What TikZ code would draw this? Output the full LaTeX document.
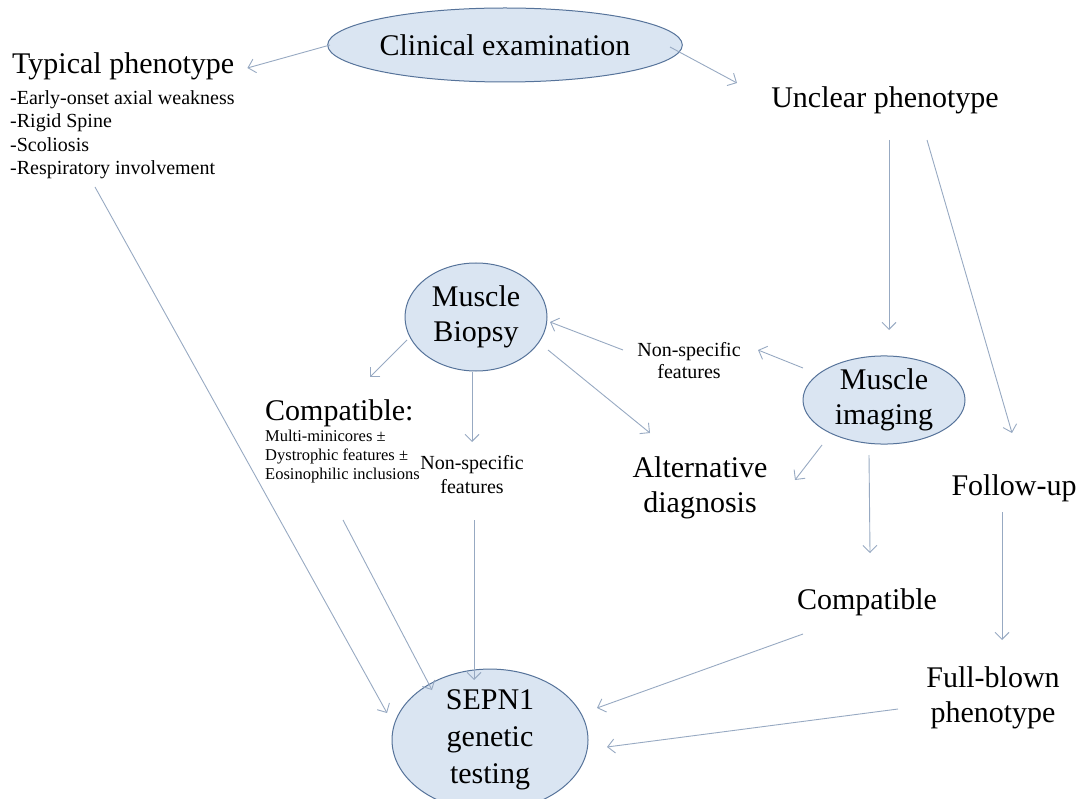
\documentclass[tikz,border=0pt]{standalone}
\usepackage{fontspec}
\setmainfont{Liberation Serif}
\usetikzlibrary{shapes.geometric,arrows.meta,calc}
\definecolor{ellfill}{HTML}{DAE5F2}
\definecolor{elldraw}{HTML}{56739A}
\definecolor{arr}{HTML}{97A9C2}
\tikzset{
  bubble/.style={ellipse, draw=elldraw, fill=ellfill, line width=1pt, inner sep=0pt, align=center, font=\fontsize{30}{35}\selectfont},
  big/.style={inner sep=0pt, align=center, font=\fontsize{30}{35}\selectfont},
  mid/.style={inner sep=0pt, align=center, font=\fontsize{20}{23}\selectfont},
  conn/.style={draw=arr, line width=0.9pt, -{Straight Barb[length=7pt,width=14pt]}},
}
\begin{document}
\begin{tikzpicture}[x=1pt,y=-1pt]
\useasboundingbox (0,0) rectangle (1083,799);
% nodes
\node[bubble, minimum width=315, minimum height=74] (clin) at (505,45) {Clinical examination};
\node[big, anchor=base west] (typ) at (12,74) {Typical phenotype};
\node[inner sep=0pt, align=left, anchor=north west, font=\fontsize{20}{23.5}\selectfont] (typl) at (10,90)
  {-Early-onset axial weakness\\-Rigid Spine\\-Scoliosis\\-Respiratory involvement};
\node[big] (unc) at (885,100) {Unclear phenotype};
\node[bubble, minimum width=142, minimum height=108] (bio) at (476,317) {Muscle\\Biopsy};
\node[bubble, minimum width=162, minimum height=86] (img) at (884,400) {Muscle\\imaging};
\node[mid, font=\fontsize{20}{22}\selectfont] (nsr) at (689,361) {Non-specific\\features};
\node[big, anchor=west] (comp) at (265,413) {Compatible:};
\node[inner sep=0pt, align=left, anchor=north west, font=\fontsize{16.5}{19}\selectfont] (compl) at (265,430)
  {Multi-minicores ±\\Dystrophic features ±\\Eosinophilic inclusions};
\node[mid, font=\fontsize{20}{24}\selectfont] (nsm) at (472,475) {Non-specific\\features};
\node[big] (alt) at (700,488) {Alternative\\diagnosis};
\node[big] (follow) at (1014,488) {Follow-up};
\node[big] (compr) at (867,602) {Compatible};
\node[big] (fb) at (993,698) {Full-blown\\phenotype};
\node[bubble, minimum width=196, minimum height=124, font=\fontsize{30}{37}\selectfont] (sepn) at (490,740) {SEPN1\\genetic\\testing};
% connectors
\draw[conn] ($(clin)+(-175,0)$) -- ($(typ.base east)+(13,-6)$);
\draw[conn] ($(clin)+(165,2)$) -- ($(unc)+(-148,-17)$);
\draw[conn] ($(unc)+(4,40)$) -- ($(img)+(5,-70)$);
\draw[conn] ($(unc)+(42,40)$) -- ($(follow)+(-2,-55)$);
\draw[conn] ($(typ.base west)+(83,113)$) -- ($(sepn)+(-103,-27)$);
\draw[conn] ($(img)+(-81,-32)$) -- ($(nsr)+(69,-11)$);
\draw[conn] ($(nsr)+(-66,-11)$) -- ($(bio)+(74,5)$);
\draw[conn] ($(bio)+(-69,23)$) -- ($(comp.west)+(105,-36)$);
\draw[conn] ($(bio)+(-4,55)$) -- ($(nsm)+(0,-33)$);
\draw[conn] ($(bio)+(72,33)$) -- ($(alt)+(-50,-55)$);
\draw[conn] ($(img)+(-62,45)$) -- ($(alt)+(95,-8)$);
\draw[conn] ($(img)+(-15,55)$) -- ($(compr)+(3,-49)$);
\draw[conn] ($(comp.west)+(78,107)$) -- ($(sepn)+(-58,-50)$);
\draw[conn] ($(nsm)+(2,45)$) -- ($(sepn)+(-16,-60)$);
\draw[conn] ($(compr)+(-64,32)$) -- ($(sepn)+(107,-32)$);
\draw[conn] ($(follow)+(-12,24)$) -- ($(fb)+(9,-58)$);
\draw[conn] ($(fb)+(-95,11)$) -- ($(sepn)+(117,7)$);
\end{tikzpicture}
\end{document}
